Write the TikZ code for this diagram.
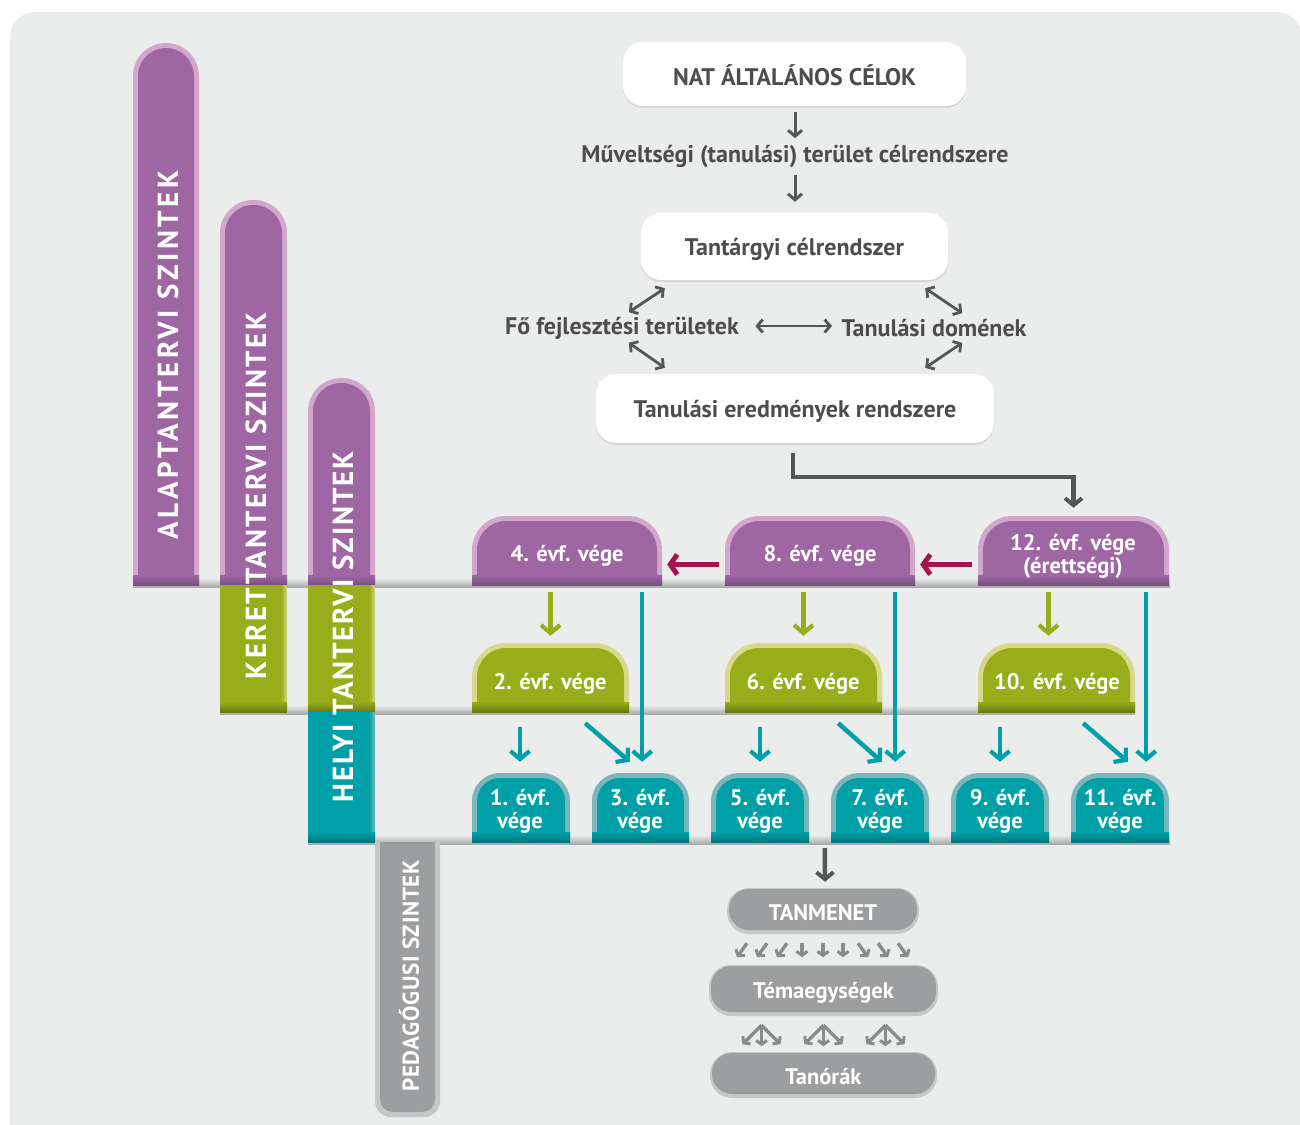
\documentclass[tikz,border=0pt]{standalone}
\usepackage{fontspec}
\setmainfont{PT Sans}
\usetikzlibrary{arrows.meta,calc,shadows}
\definecolor{bg}{HTML}{EBEDEC}
\definecolor{purp}{HTML}{9E67A4}
\definecolor{purpL}{HTML}{D3A6CB}
\definecolor{purpD}{HTML}{7A4F80}
\definecolor{grn}{HTML}{97AD19}
\definecolor{grnL}{HTML}{D6D98A}
\definecolor{grnD}{HTML}{687912}
\definecolor{tl}{HTML}{00A0A8}
\definecolor{tlL}{HTML}{7DB6BA}
\definecolor{tlD}{HTML}{00767D}
\definecolor{gry}{HTML}{9D9EA0}
\definecolor{gryL}{HTML}{C6C7C8}
\definecolor{gryD}{HTML}{8A8B8D}
\definecolor{txt}{HTML}{4D4D4F}
\definecolor{arr}{HTML}{555657}
\definecolor{mag}{HTML}{A8124F}
\definecolor{shelf}{HTML}{A9AAAA}
\tikzset{
  darr/.style={draw=arr, line width=3pt, -{Straight Barb[length=6pt,width=14pt,line width=3pt]}},
  dbl/.style={draw=arr, line width=2.8pt, {Straight Barb[length=5.5pt,width=13pt,line width=2.8pt]}-{Straight Barb[length=5.5pt,width=13pt,line width=2.8pt]}},
  elbow/.style={draw=arr, line width=4.5pt, -{Straight Barb[length=7pt,width=17pt,line width=4pt]}},
  grnarr/.style={draw=grn, line width=4.5pt, -{Straight Barb[length=8pt,width=19pt,line width=4.2pt]}},
  tlarr/.style={draw=tl, line width=4.5pt, -{Straight Barb[length=8pt,width=19pt,line width=4.2pt]}},
  magarr/.style={draw=mag, line width=5.5pt, -{Straight Barb[length=7pt,width=20pt,line width=5pt]}},
  smallarr/.style={draw=gryD, line width=3.4pt, -{Straight Barb[length=4pt,width=11pt,line width=3pt]}},
  wbox/.style={fill=white, rounded corners=20pt, inner sep=0,
    drop shadow={shadow xshift=0pt, shadow yshift=-2pt, opacity=0.10, fill=black}},
  dtxt/.style={text=txt, font=\bfseries\fontsize{24}{28}\selectfont, align=center},
  wtxt/.style={text=white, font=\bfseries\fontsize{22.5}{23}\selectfont, align=center, inner sep=0},
  vlabel/.style={text=white, rotate=90, inner sep=0, font=\bfseries\fontsize{29}{29}\selectfont\addfontfeature{LetterSpace=#1}},
}
% tab-shaped box: name, x1, y1, x2, y2, radius, colour
\newcommand\tabbox[7]{%
  \pgfmathsetmacro\innerrad{#6-5}%
  \begin{scope}
    \clip (#2,#3) rectangle (#4,#5);
    \fill[#7L, rounded corners=#6pt] (#2,#3) rectangle (#4,#5+60);
    \fill[#7, rounded corners=\innerrad pt] (#2+5,#3+5) rectangle (#4-5,#5+60);
    \shade[top color=#7, bottom color=#7D] (#2,#5-10) rectangle (#4,#5);
  \end{scope}
  \node[inner sep=0, minimum width=#4-#2, minimum height=#5-#3] (#1) at ({(#2+#4)/2},{(#3+#5)/2}) {};
}
% lower section of a level bar: name, x1, y1, x2, y2, colour
\newcommand\secbox[6]{%
  \fill[#6] (#2,#3) rectangle (#4,#5);
  \shade[left color=#6, right color=#6L] (#4-6,#3) rectangle (#4,#5);
  \shade[top color=#6, bottom color=#6D] (#2,#5-10) rectangle (#4,#5);
  \node[inner sep=0, minimum width=#4-#2, minimum height=#5-#3] (#1) at ({(#2+#4)/2},{(#3+#5)/2}) {};
}
% grey pill: name, x1, y1, x2, y2, text
\newcommand\pill[6]{%
  \fill[gryL, rounded corners=22pt] (#2,#3) rectangle (#4,#5);
  \fill[gry, rounded corners=20pt] (#2+2,#3+1) rectangle (#4-2,#5-4);
  \node[inner sep=0, minimum width=#4-#2, minimum height=#5-#3] (#1) at ({(#2+#4)/2},{(#3+#5)/2}) {};
  \node[wtxt] at ($(#1.center)+(0,2)$) {#6};
}
\begin{document}
\begin{tikzpicture}[x=1pt,y=-1pt]
\useasboundingbox (0,0) rectangle (1300,1124);
\clip (0,0) rectangle (1300,1124);
\fill[white] (0,0) rectangle (1300,1124);
\fill[bg, rounded corners=25pt] (10,12) rectangle (1302,1170);

% shelves
\shade[top color=bg, bottom color=shelf] (133,578) rectangle (1170,587);
\shade[top color=bg, bottom color=shelf] (220,705) rectangle (1135,714);
\shade[top color=bg, bottom color=shelf] (308,835) rectangle (1170,844);

% level bars
\tabbox{bar1}{133}{43}{199}{585}{33}{purp}
\tabbox{bar2}{220}{200}{287}{585}{33}{purp}
\secbox{bar2g}{220}{585}{287}{712}{grn}
\tabbox{bar3}{308}{378}{375}{585}{33}{purp}
\secbox{bar3g}{308}{585}{375}{712}{grn}
\secbox{bar3t}{308}{712}{375}{842}{tl}
% pedagogical bar
\begin{scope}
  \clip (375,842) rectangle (440,1118);
  \fill[gryL, rounded corners=16pt] (375,800) rectangle (440,1117);
  \fill[gry, rounded corners=13pt] (380,800) rectangle (435,1112);
\end{scope}
\node[inner sep=0, minimum width=65, minimum height=275] (bar4) at (407.5,979.5) {};

\node[vlabel=12] (lab1) at (168,355) {ALAPTANTERVI SZINTEK};
\node[vlabel=8] (lab2) at (256,496) {KERETTANTERVI SZINTEK};
\node[vlabel=6] (lab3) at (343,627) {HELYI TANTERVI SZINTEK};
\node[text=white, rotate=90, inner sep=0, font=\bfseries\fontsize{23}{23}\selectfont\addfontfeature{LetterSpace=3}] (lab4) at (409,976) {PEDAGÓGUSI SZINTEK};

% top flow
\node[wbox, minimum width=343, minimum height=64] (nat) at (794.5,74) {};
\node[dtxt] at ($(nat.center)+(0,1)$) {NAT ÁLTALÁNOS CÉLOK};
\node[dtxt, inner sep=2pt] (mv) at (795,156) {Műveltségi (tanulási) terület célrendszere};
\node[wbox, minimum width=307, minimum height=67] (tc) at (794.5,246.5) {};
\node[dtxt] at ($(tc.center)+(0,3)$) {Tantárgyi célrendszer};
\node[dtxt] (fo) at (622,328) {Fő fejlesztési területek};
\node[dtxt] (td) at (934,328) {Tanulási domének};
\node[wbox, minimum width=398, minimum height=69] (er) at (795,408.5) {};
\node[dtxt] at ($(er.center)+(0,3)$) {Tanulási eredmények rendszere};

\draw[darr] ($(nat.south)+(0.5,6)$) -- ($(nat.south)+(0.5,32)$);
\draw[darr] ($(tc.north)+(0.5,-38)$) -- ($(tc.north)+(0.5,-11)$);
\draw[dbl] ($(fo.east)+(13,-2)$) -- ($(td.west)+(-6,-2)$);
\draw[dbl] ($(tc.south west)+(-12,32)$) -- ($(tc.south west)+(24,8)$);
\draw[dbl] ($(tc.south east)+(-23,8)$) -- ($(tc.south east)+(14,33)$);
\draw[dbl] ($(er.north west)+(33,-31)$) -- ($(er.north west)+(69,-6)$);
\draw[dbl] ($(er.north east)+(-32,-31)$) -- ($(er.north east)+(-69,-6)$);

% grade boxes
\tabbox{n4}{472}{516}{662}{585}{34}{purp}
\tabbox{n8}{725}{516}{915}{585}{34}{purp}
\tabbox{n12}{978}{516}{1169}{585}{34}{purp}
\tabbox{n2}{472}{643}{629}{712}{34}{grn}
\tabbox{n6}{725}{643}{882}{712}{34}{grn}
\tabbox{n10}{978}{643}{1135}{712}{34}{grn}
\tabbox{n1}{472}{773}{570}{842}{28}{tl}
\tabbox{n3}{592}{773}{689}{842}{28}{tl}
\tabbox{n5}{711}{773}{809}{842}{28}{tl}
\tabbox{n7}{831}{773}{929}{842}{28}{tl}
\tabbox{n9}{951}{773}{1049}{842}{28}{tl}
\tabbox{n11}{1071}{773}{1169}{842}{28}{tl}

\node[wtxt] (t4) at (567,556) {4. évf. vége};
\node[wtxt] (t8) at (820,556) {8. évf. vége};
\node[wtxt] (t12) at (1073,556) {12. évf. vége\\(érettségi)};
\node[wtxt] (t2) at (550,684) {2. évf. vége};
\node[wtxt] (t6) at (803,684) {6. évf. vége};
\node[wtxt] (t10) at (1057,684) {10. évf. vége};
\node[wtxt] (t1) at (520,811) {1. évf.\\vége};
\node[wtxt] (t3) at (640,811) {3. évf.\\vége};
\node[wtxt] (t5) at (760,811) {5. évf.\\vége};
\node[wtxt] (t7) at (880,811) {7. évf.\\vége};
\node[wtxt] (t9) at (1000,811) {9. évf.\\vége};
\node[wtxt] (t11) at (1120,811) {11. évf.\\vége};

% elbow connector
\draw[elbow] ($(er.south)+(-2,10)$) |- ($(n12.north)+(0,-39)$) -- ($(n12.north)+(0,-8)$);

% magenta arrows
\draw[magarr] ($(n8.west)+(-6,14)$) -- ($(n4.east)+(5,14)$);
\draw[magarr] ($(n12.west)+(-6,14)$) -- ($(n8.east)+(5,14)$);

% green arrows
\draw[grnarr] ($(n2.north |- n4.south)+(0,7)$) -- ($(n2.north)+(0,-7)$);
\draw[grnarr] ($(n6.north |- n8.south)+(0,7)$) -- ($(n6.north)+(0,-7)$);
\draw[grnarr] ($(n10.north |- n12.south)+(-8,7)$) -- ($(n10.north)+(-8,-7)$);

% teal arrows
\draw[tlarr] ($(n4.south east)+(-20,7)$) -- ($(n4.south east |- n3.north)+(-20,-11)$);
\draw[tlarr] ($(n8.south east)+(-20,7)$) -- ($(n8.south east |- n7.north)+(-20,-11)$);
\draw[tlarr] ($(n12.south east)+(-23,7)$) -- ($(n12.south east |- n11.north)+(-23,-11)$);
\draw[tlarr] ($(n1.north |- n2.south)+(-1,15)$) -- ($(n1.north)+(-1,-11)$);
\draw[tlarr] ($(n5.north |- n6.south)+(0,15)$) -- ($(n5.north)+(0,-11)$);
\draw[tlarr] ($(n9.north |- n10.south)+(0,15)$) -- ($(n9.north)+(0,-11)$);
\draw[tlarr] ($(n2.south east)+(-44,11)$) -- ($(n3.north west)+(38,-11)$);
\draw[tlarr] ($(n6.south east)+(-44,11)$) -- ($(n7.north west)+(51,-11)$);
\draw[tlarr] ($(n10.south east)+(-52,11)$) -- ($(n11.north west)+(57,-11)$);

% pedagogical level
\pill{tm}{727}{888}{919}{934}{TANMENET}
\pill{te}{709}{965}{938}{1016}{Témaegységek}
\pill{ta}{710}{1052}{937}{1098}{Tanórák}
\draw[elbow] ($(n7.south west)+(-6,6)$) -- ($(tm.north)+(2,-6)$);
\foreach \dx/\d in {-81/-1,-61/-1,-41/-1,-21/0,0/0,20/0,40/1,60/1,80/1}
  \draw[smallarr] ($(tm.south)+(\dx-5*\d,9)$) -- ($(tm.south)+(\dx+5*\d,23)$);
\foreach \dx in {-62,0,62}{
  \draw[smallarr] ($(te.south)+(\dx,9)$) -- ($(te.south)+(\dx-19,28)$);
  \draw[smallarr] ($(te.south)+(\dx,9)$) -- ($(te.south)+(\dx,30)$);
  \draw[smallarr] ($(te.south)+(\dx,9)$) -- ($(te.south)+(\dx+19,28)$);
}
\end{tikzpicture}
\end{document}
